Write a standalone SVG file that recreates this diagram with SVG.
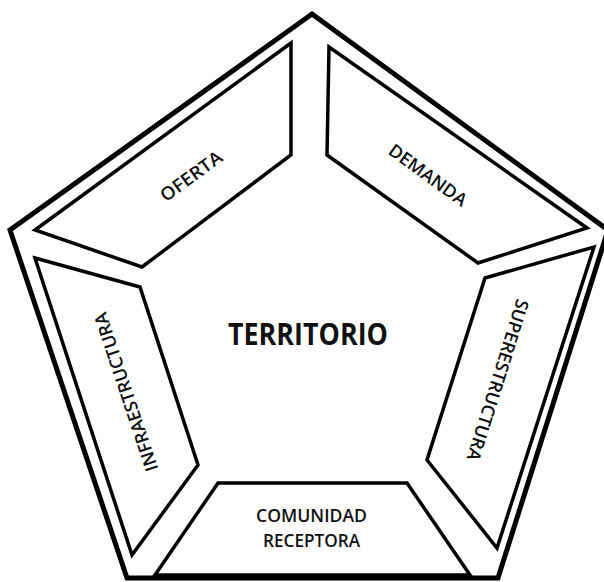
<svg xmlns="http://www.w3.org/2000/svg" width="604" height="582" viewBox="0 0 604 582">
<style>
.outer{fill:none;stroke:#000;stroke-width:5;stroke-linejoin:miter}
.seg{fill:#fff;stroke:#000;stroke-width:3.5;stroke-linejoin:miter}
.lbl{font-family:"Open Sans","Liberation Sans",sans-serif;font-size:18px;font-weight:600;fill:#111;text-anchor:middle}
.title{font-family:"Open Sans","Liberation Sans",sans-serif;font-size:30px;font-weight:700;fill:#111;text-anchor:middle}
</style>
<rect width="604" height="582" fill="#fff"/>
<g id="pentagon">
<polygon class="outer" points="312,14 608,230 498,578 127,578 10,230"/>
</g>
<g id="oferta">
<polygon class="seg" points="35,230 291,43 291,155 142,267"/>
<text class="lbl" transform="translate(191,176) rotate(-36)" x="0" y="6.5" textLength="72" lengthAdjust="spacingAndGlyphs">OFERTA</text>
</g>
<g id="demanda">
<polygon class="seg" points="329,47 587,228 478,263 327,155"/>
<text class="lbl" transform="translate(428,175) rotate(36)" x="0" y="6.5" textLength="92" lengthAdjust="spacingAndGlyphs">DEMANDA</text>
</g>
<g id="superestructura">
<polygon class="seg" points="594,247 497,548 427,460 485,278"/>
<text class="lbl" transform="translate(498,380) rotate(107.5)" x="0" y="6.5" textLength="168" lengthAdjust="spacingAndGlyphs">SUPERESTRUCTURA</text>
</g>
<g id="comunidad">
<polygon class="seg" points="218,483 407,483 470,575 155,575"/>
<text class="lbl" x="311.5" y="522" font-size="16.5" textLength="111" lengthAdjust="spacingAndGlyphs">COMUNIDAD</text>
<text class="lbl" x="311.5" y="547" font-size="16.5" textLength="97" lengthAdjust="spacingAndGlyphs">RECEPTORA</text>
</g>
<g id="infraestructura">
<polygon class="seg" points="35,258 140,287 198,465 132,555"/>
<text class="lbl" transform="translate(126,392) rotate(-108.5)" x="0" y="6.5" textLength="166" lengthAdjust="spacingAndGlyphs">INFRAESTRUCTURA</text>
</g>
<g id="territorio">
<text class="title" x="308" y="345" textLength="160" lengthAdjust="spacingAndGlyphs">TERRITORIO</text>
</g>
<g id="connectors"></g>
</svg>
